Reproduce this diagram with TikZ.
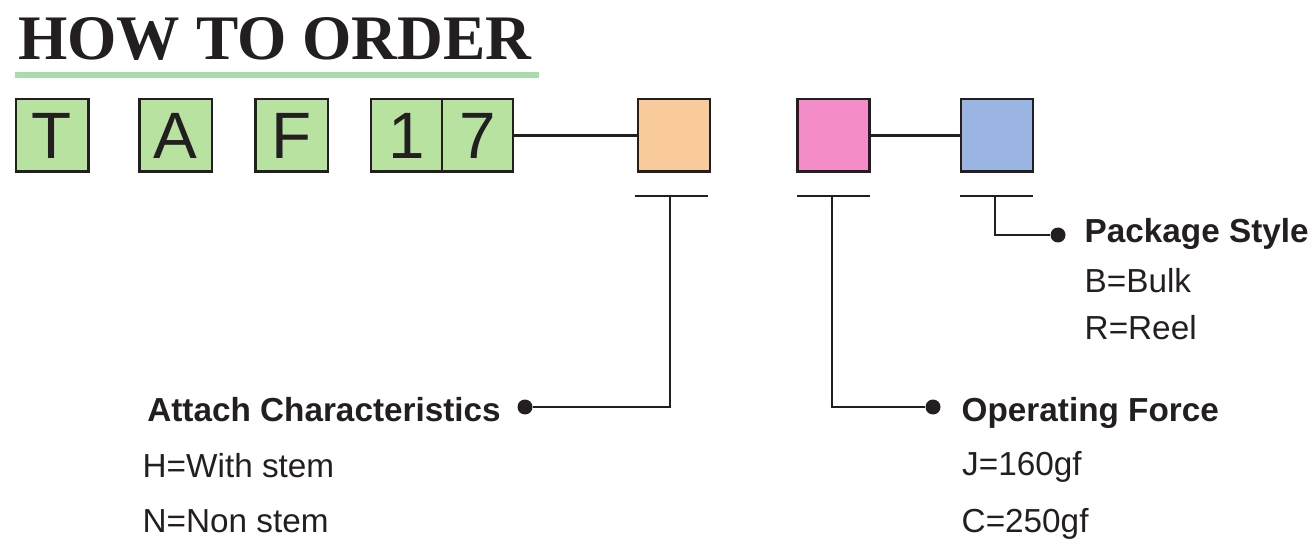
\documentclass[tikz,border=0pt]{standalone}
\usepackage{fontspec}
\setmainfont{Liberation Sans}
\newfontfamily\titlefont{Liberation Serif}
\usepackage{xcolor}
\usetikzlibrary{positioning}

\definecolor{inkgray}{RGB}{35,31,32}
\definecolor{codegreen}{RGB}{184,226,160}
\definecolor{rulegreen}{RGB}{168,221,170}
\definecolor{attachorange}{RGB}{249,202,154}
\definecolor{forcepink}{RGB}{245,140,202}
\definecolor{packblue}{RGB}{155,181,227}

\begin{document}
\begin{tikzpicture}[
		x=1pt, y=-1pt,
		letterbox/.style={draw=inkgray, line width=2.5pt, fill=codegreen, minimum width=72.5pt, minimum height=72.5pt, inner sep=0pt, text=inkgray, font=\fontsize{65.6}{70}\selectfont},
		optbox/.style={draw=inkgray, line width=2.5pt, minimum width=72pt, minimum height=72.5pt, inner sep=0pt},
		link/.style={draw=inkgray, line width=2.4pt},
		dot/.style={circle, fill=inkgray, inner sep=0pt, minimum size=15pt},
		heading/.style={anchor=base west, inner sep=0pt, text=inkgray, font=\fontsize{33.3}{40}\selectfont\bfseries},
		choice/.style={anchor=base west, inner sep=0pt, text=inkgray, font=\fontsize{33.3}{40}\selectfont}
		]
	
		\useasboundingbox (0,0) rectangle (1312,545);
		\def\bary{196}
		\def\barhalf{36.5}
	
		% --- Titre ---
		\node[anchor=base west, inner sep=0pt, text=inkgray, font=\titlefont\bfseries\fontsize{63.4}{70}\selectfont] (title) at (18,60) {HOW TO ORDER};
		\coordinate (ruleL) at (15,75);
		\coordinate (ruleR) at (539,75);
		\draw[rulegreen, line width=6pt] (ruleL) -- (ruleR);
	
		% --- Code ---
		\node[letterbox] (LT) at (52,135.5) {T};
		\node[letterbox] (LA) at (175.5,135.5) {A};
		\node[letterbox] (LF) at (291.5,135.5) {F};
		\node[letterbox, minimum width=71pt] (L1) at (406.5,135.5) {1};
		\node[letterbox, minimum width=71pt] (L7) at (477.5,135.5) {7};
	
		\node[optbox, fill=attachorange] (Attach) at (674,135.5) {};
		\node[optbox, fill=forcepink] (Force) at (833.5,135.5) {};
		\node[optbox, fill=packblue] (Pack) at (997,135.5) {};
	
		\draw[link] (L7) -- (Attach);
		\draw[link] (Force) -- (Pack);
	
		% --- Barres ---
		\coordinate (abar) at (671.5,\bary);
		\coordinate (fbar) at (833.5,\bary);
		\coordinate (pbar) at (996,\bary);
		\foreach \b in {abar,fbar,pbar}
			\draw[link] ([xshift=-\barhalf pt]\b) -- ([xshift=\barhalf pt]\b);
	
		\coordinate (astem) at (670,\bary);
		\coordinate (fstem) at (832,\bary);
		\coordinate (pstem) at (995,\bary);
	
		\node[dot] (adot) at (525,407) {};
		\node[dot] (fdot) at (933,407) {};
		\node[dot] (pdot) at (1058,235) {};
	
		\draw[link] (astem) |- (adot);
		\draw[link] (fstem) |- (fdot);
		\draw[link] (pstem) |- (pdot);
	
		% --- Textes ---
		\node[heading, anchor=base east] (atitle) at (501,421.5) {Attach Characteristics};
		\node[choice] (aH) at (142.5,477) {H=With stem};
		\node[choice] (aN) at (142.5,532.5) {N=Non stem};
	
		\node[heading] (ftitle) at (961.5,421.5) {Operating Force};
		\node[choice] (fJ) at (962,475.5) {J=160gf};
		\node[choice] (fC) at (961.5,532) {C=250gf};
	
		\node[heading] (ptitle) at (1084.5,243) {Package Style};
		\node[choice] (pB) at (1084.5,292.5) {B=Bulk};
		\node[choice] (pR) at (1084.5,340) {R=Reel};
	
	\end{tikzpicture}
\end{document}
